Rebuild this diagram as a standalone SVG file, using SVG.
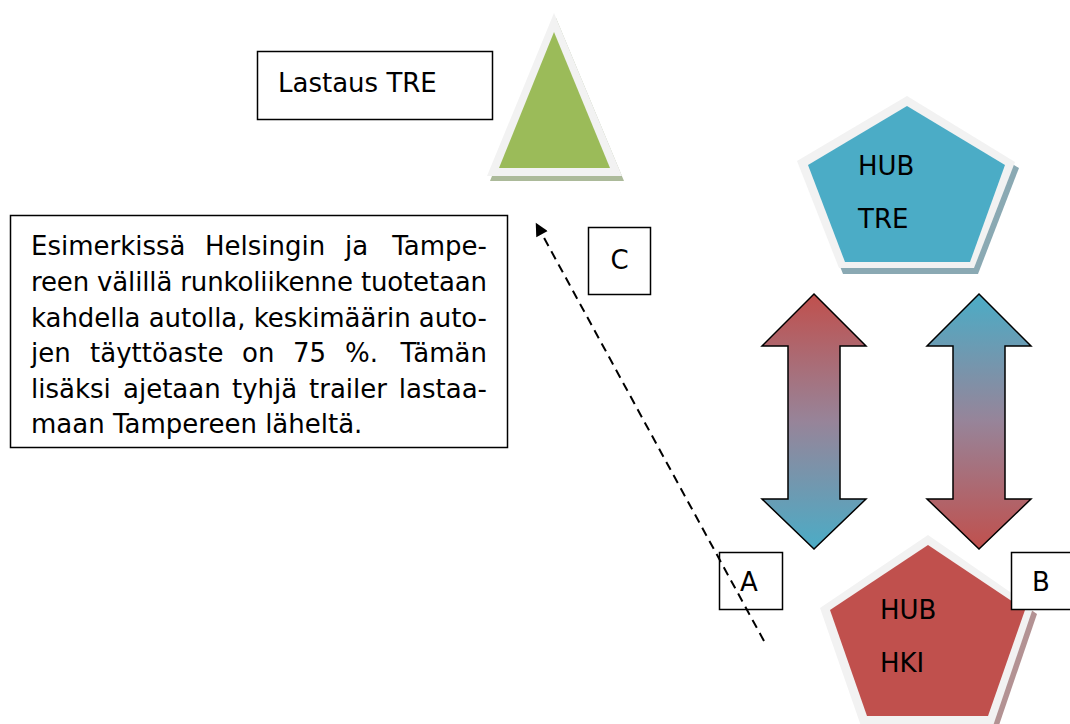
<svg xmlns="http://www.w3.org/2000/svg" width="1070" height="724" viewBox="0 0 1070 724">
  <defs>
    <linearGradient id="gradRedBlue" x1="0" y1="0" x2="0" y2="1">
      <stop offset="0" stop-color="#c0504d"/>
      <stop offset="0.5" stop-color="#978499"/>
      <stop offset="1" stop-color="#4bacc6"/>
    </linearGradient>
    <linearGradient id="gradBlueRed" x1="0" y1="0" x2="0" y2="1">
      <stop offset="0" stop-color="#4bacc6"/>
      <stop offset="0.5" stop-color="#978499"/>
      <stop offset="1" stop-color="#c0504d"/>
    </linearGradient>
    <marker id="arrowHead" viewBox="0 0 10 10" refX="8" refY="5" markerWidth="14" markerHeight="13" orient="auto" markerUnits="userSpaceOnUse">
      <path d="M0,0 L10,5 L0,10 z" fill="#000"/>
    </marker>
  </defs>
  <style>
    text { font-family: "DejaVu Sans", Tahoma, sans-serif; fill: #000; }
    .lbl { font-size: 26px; }
    .body { font-size: 26px; }
    .box { fill: #fff; stroke: #000; stroke-width: 1.5; }
    .rim { fill: #f2f2f2; }
    .dbl { stroke: #000; stroke-width: 1.5; stroke-linejoin: miter; }
  </style>

  <!-- loading point label -->
  <g id="lastaus-label">
    <rect class="box" x="257.5" y="51.5" width="235" height="68"/>
    <text class="lbl" x="278" y="92">Lastaus TRE</text>
  </g>

  <!-- loading point triangle -->
  <g id="lastaus-tre">
    <polygon points="556,18 490,181 624,181" fill="#a3b38f" opacity="0.9"/>
    <polygon class="rim" points="554,13 487,176 622,176"/>
    <polygon points="554,32 499,168 610,168" fill="#9bbb59"/>
  </g>

  <!-- description text, justified between x=31 and x=487 -->
  <g id="description">
    <rect class="box" x="10.5" y="215.5" width="497" height="232"/>
    <text class="body" x="31" y="255">Esimerkissä</text>
    <text class="body" x="205" y="255">Helsingin</text>
    <text class="body" x="345" y="255">ja</text>
    <text class="body" x="487" y="255" text-anchor="end">Tampe-</text>
    <text class="body" x="31" y="291" textLength="456" lengthAdjust="spacing">reen välillä runkoliikenne tuotetaan</text>
    <text class="body" x="31" y="327" textLength="456" lengthAdjust="spacing">kahdella autolla, keskimäärin auto-</text>
    <text class="body" x="31" y="362">jen</text>
    <text class="body" x="90" y="362">täyttöaste</text>
    <text class="body" x="242" y="362">on</text>
    <text class="body" x="293" y="362">75</text>
    <text class="body" x="345" y="362">%.</text>
    <text class="body" x="487" y="362" text-anchor="end">Tämän</text>
    <text class="body" x="31" y="398">lisäksi</text>
    <text class="body" x="123" y="398">ajetaan</text>
    <text class="body" x="232" y="398">tyhjä</text>
    <text class="body" x="309" y="398">trailer</text>
    <text class="body" x="487" y="398" text-anchor="end">lastaa-</text>
    <text class="body" x="31" y="433">maan Tampereen läheltä.</text>
  </g>

  <!-- hub Tampere -->
  <g id="hub-tre">
    <polygon points="910,101 1019,168 978,274 843,274 801,167" fill="#8aa9b3"/>
    <polygon class="rim" points="907,96 1015,162 974,268 839,268 797,161"/>
    <polygon points="907,106 1005,165 970,262 845,262 808,165" fill="#4bacc6"/>
    <text class="lbl" x="858" y="175">HUB</text>
    <text class="lbl" x="858" y="228">TRE</text>
  </g>

  <!-- hub Helsinki -->
  <g id="hub-hki">
    <polygon points="931,540 1037,614 997,731 865,731 823,614" fill="#b39293"/>
    <polygon class="rim" points="928,535 1033,608 993,726 861,726 820,608"/>
    <polygon points="928,545 1025,610 988,716 867,716 830,610" fill="#c0504d"/>
    <text class="lbl" x="880" y="619">HUB</text>
    <text class="lbl" x="880" y="672">HKI</text>
  </g>

  <!-- label boxes -->
  <g id="label-c">
    <rect class="box" x="588.5" y="227.5" width="62" height="67"/>
    <text class="lbl" x="619.5" y="269" text-anchor="middle">C</text>
  </g>
  <g id="label-a">
    <rect class="box" x="719.5" y="552.5" width="63" height="57"/>
    <text class="lbl" x="749" y="591" text-anchor="middle">A</text>
  </g>
  <g id="label-b">
    <rect class="box" x="1011.5" y="552.5" width="70" height="57"/>
    <text class="lbl" x="1041" y="591" text-anchor="middle">B</text>
  </g>

  <!-- connectors -->
  <g id="connectors">
    <path d="M764,641 L537,225" fill="none" stroke="#000" stroke-width="2" stroke-dasharray="9,6" marker-end="url(#arrowHead)"/>
    <polygon class="dbl" fill="url(#gradRedBlue)" points="814,294 866,346 840,346 840,499 866,499 814,549 762,499 788,499 788,346 762,346"/>
    <polygon class="dbl" fill="url(#gradBlueRed)" points="979,294 1031,346 1005,346 1005,499 1031,499 979,549 927,499 953,499 953,346 927,346"/>
  </g>
</svg>
